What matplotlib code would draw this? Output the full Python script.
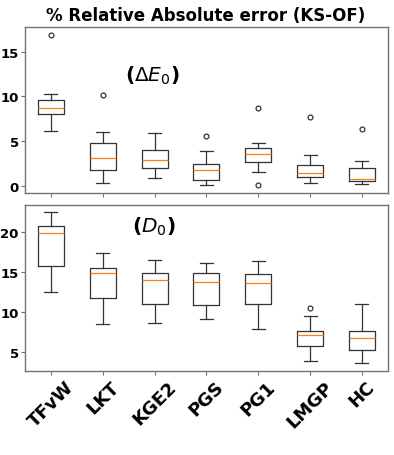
import matplotlib
matplotlib.use("Agg")
import matplotlib.pyplot as plt

# metodos
methods = ["TFvW", "LKT", "KGE2", "PGS", "PG1", "LMGP", "HC"]

# Delta E0: whisker low, Q1, median, Q3, whisker high, outliers
de0_whislo = [6.08, 0.33, 0.85, 0.11, 1.49, 0.26, 0.15]
de0_q1 = [8.02, 1.75, 2.01, 0.59, 2.69, 1.01, 0.56]
de0_med = [8.73, 3.09, 2.91, 1.71, 3.58, 1.41, 0.78]
de0_q3 = [9.59, 4.81, 3.99, 2.46, 4.21, 2.31, 1.97]
de0_whishi = [10.26, 6.00, 5.86, 3.88, 4.77, 3.47, 2.75]
de0_fliers = [[16.94], [10.19], [], [5.60], [8.66, 0.03], [7.65], [6.38]]

# D0
d0_whislo = [12.50, 8.50, 8.58, 9.08, 7.88, 3.83, 3.58]
d0_q1 = [15.67, 11.75, 10.92, 10.79, 11.00, 5.71, 5.17]
d0_med = [19.79, 14.88, 13.92, 13.67, 13.54, 7.04, 6.67]
d0_q3 = [20.75, 15.46, 14.88, 14.88, 14.67, 7.54, 7.63]
d0_whishi = [22.42, 17.33, 16.46, 16.04, 16.29, 9.46, 10.92]
d0_fliers = [[], [], [], [], [], [10.46], []]


def make_stats(lo, q1, med, q3, hi, fl):
    return [dict(whislo=a, q1=b, med=c, q3=d, whishi=e, fliers=f)
            for a, b, c, d, e, f in zip(lo, q1, med, q3, hi, fl)]


fig = plt.figure(figsize=(3.94, 4.56), dpi=100)
ax1 = fig.add_axes([0.0635, 0.5746, 0.921, 0.364])
ax2 = fig.add_axes([0.0635, 0.185, 0.921, 0.364])

box_kw = dict(
    boxprops=dict(color="0.2", linewidth=0.9),
    whiskerprops=dict(color="0.2", linewidth=0.9),
    capprops=dict(color="0.2", linewidth=0.9),
    medianprops=dict(color="#ff7f0e", linewidth=0.9),
    flierprops=dict(marker="o", markerfacecolor="none", markeredgecolor="0.2",
                    markersize=3.5, markeredgewidth=0.9),
)

ax1.bxp(make_stats(de0_whislo, de0_q1, de0_med, de0_q3, de0_whishi, de0_fliers),
        **box_kw)
ax2.bxp(make_stats(d0_whislo, d0_q1, d0_med, d0_q3, d0_whishi, d0_fliers),
        **box_kw)

for ax in (ax1, ax2):
    for s in ax.spines.values():
        s.set_color("0.45")
        s.set_linewidth(1.0)
    ax.tick_params(axis="y", color="0.45", width=0.8, length=3, pad=1.5)
    ax.tick_params(axis="x", color="0.45", width=0.8, length=3, pad=2)

ax1.set_yticks([0, 5, 10, 15])
ax1.set_yticklabels(["0", "5", "10", "15"], fontweight="bold", fontsize=9.5)
ax1.set_xticklabels([])
ax2.set_yticks([5, 10, 15, 20])
ax2.set_yticklabels(["5", "10", "15", "20"], fontweight="bold", fontsize=9.5)
ax2.set_xticklabels(methods, rotation=45, fontweight="bold", fontsize=13)

ax1.text(0.352, 0.71, r"($\Delta E_0$)", transform=ax1.transAxes,
         ha="center", va="center", fontsize=14.5, fontweight="bold")
ax2.text(0.355, 0.873, r"($D_0$)", transform=ax2.transAxes,
         ha="center", va="center", fontsize=14.5, fontweight="bold")

fig.suptitle("% Relative Absolute error (KS-OF)", x=0.523, y=0.985,
             fontsize=12, fontweight="bold")

plt.savefig("out.png", dpi=100)
